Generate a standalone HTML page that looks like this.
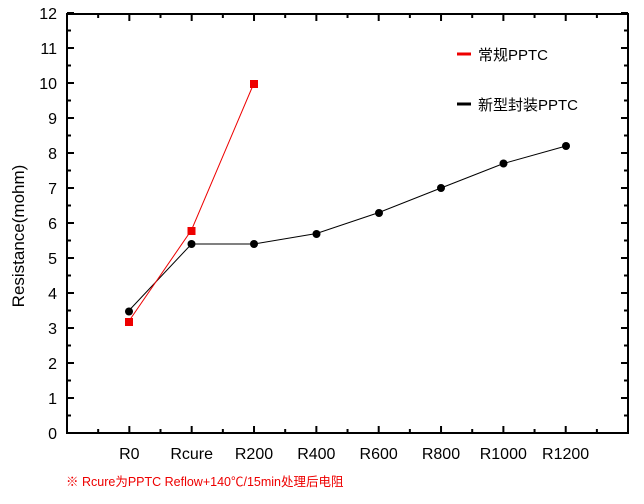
<!DOCTYPE html>
<html><head><meta charset="utf-8"><style>
body{margin:0;background:#fff}
text{font-family:"Liberation Sans","Noto Sans CJK SC",sans-serif}
</style></head><body>
<svg width="644" height="499" xmlns="http://www.w3.org/2000/svg">
<g stroke="#000" stroke-width="2" fill="none">
<rect x="67" y="14" width="561" height="419"/>
</g>
<g stroke="#000" stroke-width="2" id="t"></g>
<g id="lbl" font-size="16" fill="#000"></g>
<text transform="translate(24,236) rotate(-90)" text-anchor="middle" font-size="17">Resistance(mohm)</text>
<polyline points="129,310.5 191.5,244 254,244 316.5,233.5 379,212.5 441,188 503.5,163.5 566,146" fill="none" stroke="#000" stroke-width="1"/>
<polyline points="129,321 191.5,230 254,83" fill="none" stroke="#e00" stroke-width="1"/>
<g fill="#000">
<circle cx="129" cy="311.5" r="4"/><circle cx="191.5" cy="244" r="4"/><circle cx="254" cy="244" r="4"/><circle cx="316.5" cy="234" r="4"/><circle cx="379" cy="213" r="4"/><circle cx="441" cy="188" r="4"/><circle cx="503.5" cy="163.5" r="4"/><circle cx="566" cy="146" r="4"/>
</g>
<g fill="#e00">
<rect x="125" y="318" width="8" height="8"/><rect x="187.5" y="227" width="8" height="8"/><rect x="250" y="80" width="8" height="8"/>
</g>
<line x1="457" y1="54" x2="471" y2="54" stroke="#e00" stroke-width="3"/>
<text x="478" y="60" font-size="15">常规PPTC</text>
<line x1="457" y1="104" x2="471" y2="104" stroke="#000" stroke-width="3"/>
<text x="478" y="110" font-size="15">新型封装PPTC</text>
<text x="66" y="486" font-size="12.5" fill="#e00">※ Rcure为PPTC Reflow+140℃/15min处理后电阻</text>
<script>
var t=document.getElementById('t'),l=document.getElementById('lbl'),ns='http://www.w3.org/2000/svg';
function ln(a,b,c,d){var e=document.createElementNS(ns,'line');e.setAttribute('x1',a);e.setAttribute('y1',b);e.setAttribute('x2',c);e.setAttribute('y2',d);t.appendChild(e);}
function tx(x,y,s,a){var e=document.createElementNS(ns,'text');e.setAttribute('x',x);e.setAttribute('y',y);e.setAttribute('text-anchor',a);e.textContent=s;l.appendChild(e);}
for(var v=0;v<=24;v++){var y=433-17.5*v,L=v%2?4:7;ln(67,y,67+L,y);ln(628,y,628-L,y);if(v%2==0)tx(57,y+6,v/2,'end');}
var c=['R0','Rcure','R200','R400','R600','R800','R1000','R1200'];
for(var k=1;k<18;k++){var x=67+31.17*k,L=k%2?4:7;ln(x,433,x,433-L);ln(x,14,x,14+L);}
for(var i=0;i<8;i++)tx(67+62.33*(i+1),459,c[i],'middle');
</script>
</svg>
</body></html>
